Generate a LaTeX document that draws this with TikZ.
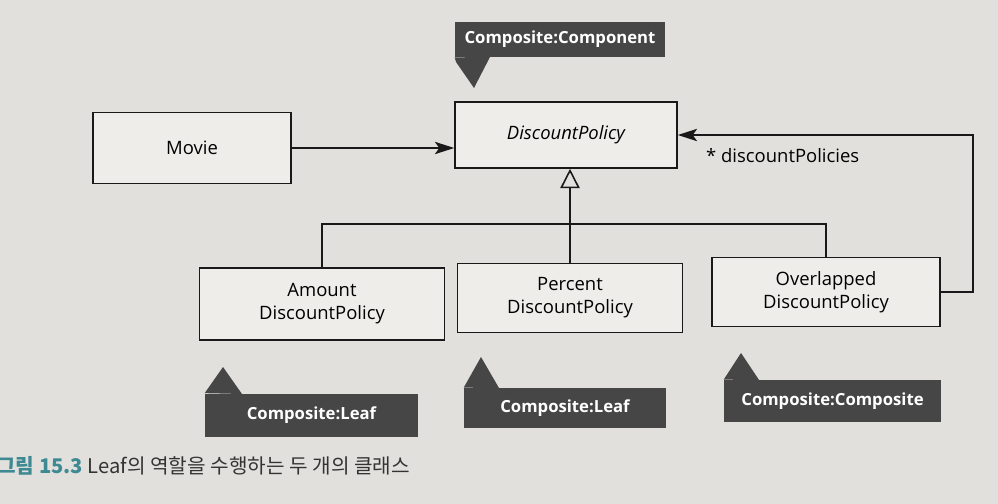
\documentclass[tikz,border=0pt]{standalone}
\usepackage{fontspec}
\setmainfont{Open Sans}
\newfontfamily\krfont{Noto Sans CJK KR}
\usetikzlibrary{arrows.meta,positioning}

\definecolor{paper}{HTML}{E2E0DC}
\definecolor{boxfill}{HTML}{EEEDEA}
\definecolor{tagfill}{HTML}{464646}
\definecolor{capteal}{HTML}{3E8A93}

\tikzset{
	classbox/.style={draw=black!90, fill=boxfill, line width=0.9pt, align=center, font=\fontsize{10.5}{13}\selectfont},
	tagbox/.style={fill=tagfill, text=white, inner sep=0pt, font=\fontsize{9.5}{12}\selectfont\bfseries},
	link/.style={draw=black!90, line width=0.9pt},
	assoc/.style={link, -{Stealth[length=11pt, width=7pt, inset=2.5pt]}},
	gen/.style={link, -{Triangle[open, length=11pt, width=11pt, fill=paper]}}
}

\begin{document}
\begin{tikzpicture}[x=0.02cm, y=-0.02cm]
		%%%%% START %%%%%
		
		\fill[paper] (0, 0) rectangle (998, 504);
		\useasboundingbox (0, 0) rectangle (998, 504);
		
		% classes
		\node[classbox, minimum width=3.96cm, minimum height=1.42cm] (movie) at (192, 148) {Movie};
		\node[classbox, minimum width=4.44cm, minimum height=1.32cm] (policy) at (566, 135) {\itshape DiscountPolicy};
		\node[classbox, minimum width=4.9cm, minimum height=1.44cm] (amount) at (322, 304) {Amount\\DiscountPolicy};
		\node[classbox, minimum width=4.5cm, minimum height=1.38cm] (percent) at (570, 298) {Percent\\DiscountPolicy};
		\node[classbox, minimum width=4.56cm, minimum height=1.38cm] (overlapped) at (826, 292) {Overlapped\\DiscountPolicy};
		
		% connectors
		\draw[assoc] (movie.east) -- (movie.east -| policy.west);
		\draw[gen] (percent.north) -- (percent.north |- policy.south);
		\coordinate (bus) at (570, 224);
		\draw[link] (amount.north) |- (bus) -| (overlapped.north);
		\draw[assoc] (overlapped.east) -- ++(32, 0) |- (policy.east);
		\node[anchor=west, font=\fontsize{10.5}{13}\selectfont] (rolename) at (700, 156) {* discountPolicies};
		
		% role tags
		\node[tagbox, minimum width=4.2cm, minimum height=0.7cm] (tagcomponent) at (560, 39.5) {Composite:Component};
		\fill[tagfill] (tagcomponent.south west) -- (456, 62) -- (474, 88) -- (490, 57) -- cycle;
		
		\node[tagbox, minimum width=4.26cm, minimum height=0.86cm] (tagamount) at (311.5, 415) {Composite:Leaf};
		\fill[tagfill] (tagamount.north west) -- (223, 367) -- (242, 394) -- cycle;
		
		\node[tagbox, minimum width=4.04cm, minimum height=0.8cm] (tagpercent) at (565, 408) {Composite:Leaf};
		\fill[tagfill] (tagpercent.north west) -- (481, 357) -- (499, 388) -- cycle;
		
		\node[tagbox, minimum width=4.34cm, minimum height=0.84cm] (tagoverlapped) at (832.5, 401) {Composite:Composite};
		\fill[tagfill] (tagoverlapped.north west) -- (741, 353) -- (759, 380) -- cycle;
		
		% caption
		\node[anchor=west, inner sep=0pt, font=\krfont\fontsize{11.5}{14}\selectfont] (caption) at (-3, 466) {\textcolor{capteal}{\bfseries 그림 15.3} \textcolor{black!80}{Leaf의 역할을 수행하는 두 개의 클래스}};
		
		%%%%% END %%%%%
	\end{tikzpicture}
\end{document}
